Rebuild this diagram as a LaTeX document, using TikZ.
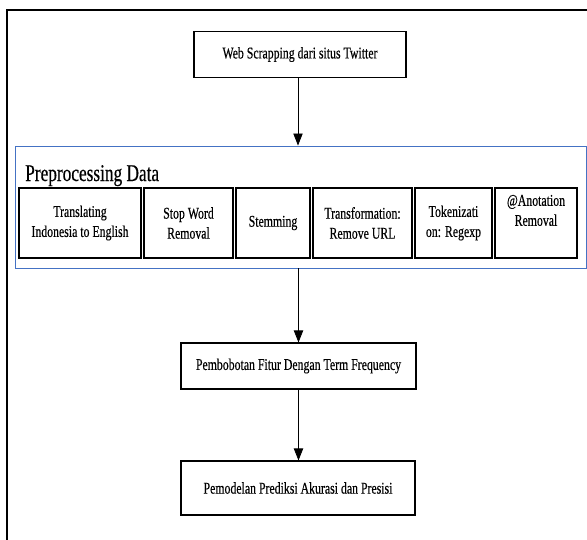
\documentclass[tikz,border=0pt]{standalone}
\usepackage{fontspec}
\setmainfont{Liberation Serif}[FakeStretch=0.72,FakeBold=0.4]
\usetikzlibrary{arrows.meta}
\definecolor{prepblue}{RGB}{68,114,196}
\tikzset{
  box/.style={draw, line width=0.8pt, align=center, inner sep=0pt,
    font=\fontsize{12.3}{15}\selectfont},
  prepbox/.style={draw=prepblue, line width=0.7pt, inner sep=0pt},
  flow/.style={-{Triangle[width=7pt,length=9pt]}, line width=0.6pt},
}
\begin{document}
\begin{tikzpicture}[x=0.75pt,y=-0.75pt]
  \useasboundingbox (0,0) rectangle (587,540);
  \draw[line width=1.5pt] (7,540) -- (7,10) -- (587,10);
  % steps
  \node[box, minimum width=159pt, minimum height=34.5pt] (web) at (300,54.5) {Web Scrapping dari situs Twitter};
  \node[prepbox, minimum width=428.25pt, minimum height=91.5pt] (prep) at (300.5,207) {};
  \node[anchor=base west, inner sep=0pt, font=\fontsize{18}{20}\selectfont] (preptitle) at (25,181) {Preprocessing Data};
  \node[box, minimum width=91.5pt, minimum height=52.5pt] (translate) at (80,223) {Translating\\Indonesia to English};
  \node[box, minimum width=66.75pt, minimum height=52.5pt] (stopword) at (188.5,223) {Stop Word\\Removal};
  \node[box, minimum width=55.5pt, minimum height=52.5pt] (stemming) at (273,223) {Stemming};
  \node[box, minimum width=74.25pt, minimum height=52.5pt] (transform) at (362.5,223) {Transformation:\\Remove URL};
  \node[box, minimum width=57.75pt, minimum height=52.5pt] (tokenize) at (453.5,223) {Tokenizati\\on: Regexp};
  \node[box, minimum width=61.5pt, minimum height=52.5pt] (anotation) at (536,223) {@Anotation\\Removal\\[4pt]};
  \node[box, minimum width=176.25pt, minimum height=34.5pt] (bobot) at (298.5,366) {Pembobotan Fitur Dengan Term Frequency};
  \node[box, minimum width=175.5pt, minimum height=40.5pt] (model) at (298,488) {Pemodelan Prediksi Akurasi dan Presisi};
  % arrows
  \draw[flow] ([xshift=-1.5pt]web.south) -- ([xshift=-1.5pt]web.south |- prep.north);
  \draw[flow] (bobot.north |- prep.south) -- (bobot.north);
  \draw[flow] (bobot.south) -- (bobot.south |- model.north);
\end{tikzpicture}
\end{document}
